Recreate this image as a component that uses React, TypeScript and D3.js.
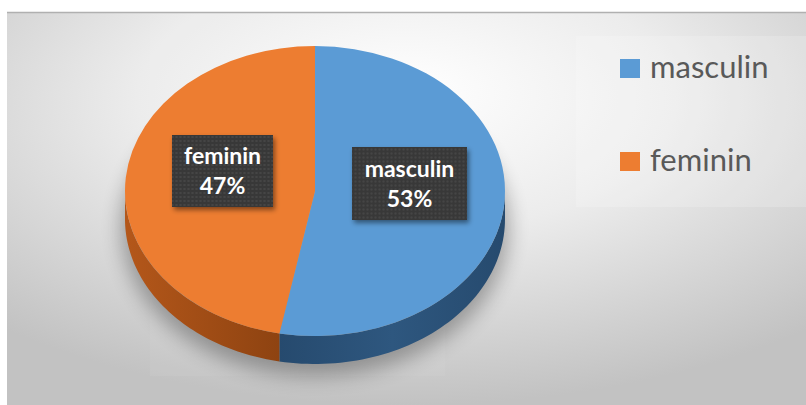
import React from "react";
import * as d3 from "d3";

const categories = ["masculin", "feminin"];
const values = [53, 47];
const colors = ["#5B9BD5", "#ED7D31"];
const sideColors = ["#264A6E", "#A34E16"];
const sideColorsLight = ["#2E577F", "#BC5D1C"];

const W = 806;
const H = 405;
const cx = 315;
const cy = 191;
const rx = 190;
const ry = 145;
const depth = 28;

function ellPt(theta: number, dy = 0): [number, number] {
  return [cx + rx * Math.sin(theta), cy - ry * Math.cos(theta) + dy];
}

function sidePath(a0: number, a1: number): string {
  const p = d3.path();
  const n = 60;
  const s = ellPt(a0);
  p.moveTo(s[0], s[1]);
  for (let i = 1; i <= n; i++) {
    const t = a0 + ((a1 - a0) * i) / n;
    const q = ellPt(t);
    p.lineTo(q[0], q[1]);
  }
  for (let i = n; i >= 0; i--) {
    const t = a0 + ((a1 - a0) * i) / n;
    const q = ellPt(t, depth);
    p.lineTo(q[0], q[1]);
  }
  p.closePath();
  return p.toString();
}

export default function App() {
  const pie = d3.pie<number>().sort(null).value((d) => d)(values);
  const arc = d3.arc<d3.PieArcDatum<number>>().innerRadius(0).outerRadius(rx);
  const total = d3.sum(values);
  const pct = d3.format(".0%");

  const sides = pie
    .map((s, i) => {
      const a0 = Math.max(s.startAngle, Math.PI / 2);
      const a1 = Math.min(s.endAngle, (3 * Math.PI) / 2);
      return a1 > a0 ? { i, a0, a1 } : null;
    })
    .filter(Boolean) as { i: number; a0: number; a1: number }[];

  const labelPos = [
    { x: 409.5, y: 183.5, w: 115, h: 73 },
    { x: 222.5, y: 171, w: 101, h: 72 },
  ];

  const legendY = d3.scalePoint<string>().domain(categories).range([68, 161]);

  return (
    <svg
      width={W}
      height={H}
      style={{ position: "fixed", left: 0, top: 0, display: "block" }}
      fontFamily="Lato, 'Open Sans', sans-serif"
    >
      <defs>
        <radialGradient id="bg" cx="50%" cy="25%" r="75%" fx="50%" fy="20%">
          <stop offset="0%" stopColor="#ffffff" />
          <stop offset="45%" stopColor="#ececec" />
          <stop offset="100%" stopColor="#c2c2c2" />
        </radialGradient>
        <linearGradient id="side0" x1="0" x2="1" y1="0" y2="0">
          <stop offset="0%" stopColor={sideColors[0]} />
          <stop offset="50%" stopColor={sideColorsLight[0]} />
          <stop offset="100%" stopColor={sideColors[0]} />
        </linearGradient>
        <linearGradient id="side1" x1="0" x2="1" y1="0" y2="0">
          <stop offset="0%" stopColor="#B4571A" />
          <stop offset="100%" stopColor="#8E4311" />
        </linearGradient>
        <filter id="shadow" x="-20%" y="-20%" width="140%" height="140%">
          <feGaussianBlur stdDeviation="10" />
        </filter>
        <filter id="boxShadow" x="-20%" y="-20%" width="150%" height="150%">
          <feDropShadow dx="2" dy="3" stdDeviation="2.5" floodColor="#000" floodOpacity="0.45" />
        </filter>
        <pattern id="dots" width="4" height="4" patternUnits="userSpaceOnUse">
          <rect width="4" height="4" fill="#383838" />
          <circle cx="2" cy="2" r="0.8" fill="#555" />
        </pattern>
      </defs>

      <rect x={0} y={0} width={W} height={H} fill="#ffffff" />
      <rect x={7} y={12} width={W - 7} height={H - 12} fill="url(#bg)" />
      <line x1={7} x2={W} y1={12.5} y2={12.5} stroke="#b0b0b0" strokeWidth={1.5} />
      <rect x={150} y={14} width={295} height={362} fill="#ffffff" opacity={0.05} />
      <rect x={576} y={36} width={W - 576} height={171} fill="#ffffff" opacity={0.18} />

      <ellipse cx={cx} cy={cy + depth + 8} rx={rx + 4} ry={ry + 4} fill="#000" opacity={0.3} filter="url(#shadow)" />

      {sides.map((s) => (
        <path key={"s" + s.i} d={sidePath(s.a0, s.a1)} fill={`url(#side${s.i})`} />
      ))}

      <g transform={`translate(${cx},${cy}) scale(1,${ry / rx})`}>
        {pie.map((s, i) => (
          <path key={i} d={arc(s) || ""} fill={colors[i]} />
        ))}
      </g>

      {pie.map((s, i) => {
        const p = labelPos[i];
        return (
          <g key={"l" + i} transform={`translate(${p.x},${p.y})`}>
            <rect
              x={-p.w / 2}
              y={-p.h / 2}
              width={p.w}
              height={p.h}
              fill="url(#dots)"
              filter="url(#boxShadow)"
            />
            <text x={0} y={-7} textAnchor="middle" fill="#ffffff" fontSize={23} fontWeight="bold">
              {categories[i]}
            </text>
            <text x={0} y={23} textAnchor="middle" fill="#ffffff" fontSize={23} fontWeight="bold">
              {pct(s.value / total)}
            </text>
          </g>
        );
      })}

      {categories.map((c, i) => {
        const y = legendY(c) as number;
        return (
          <g key={"lg" + i}>
            <rect x={620} y={y - 9} width={20} height={19} fill={colors[i]} />
            <text x={650} y={y + 10} fontSize={31} fill="#595959">
              {c}
            </text>
          </g>
        );
      })}
    </svg>
  );
}
